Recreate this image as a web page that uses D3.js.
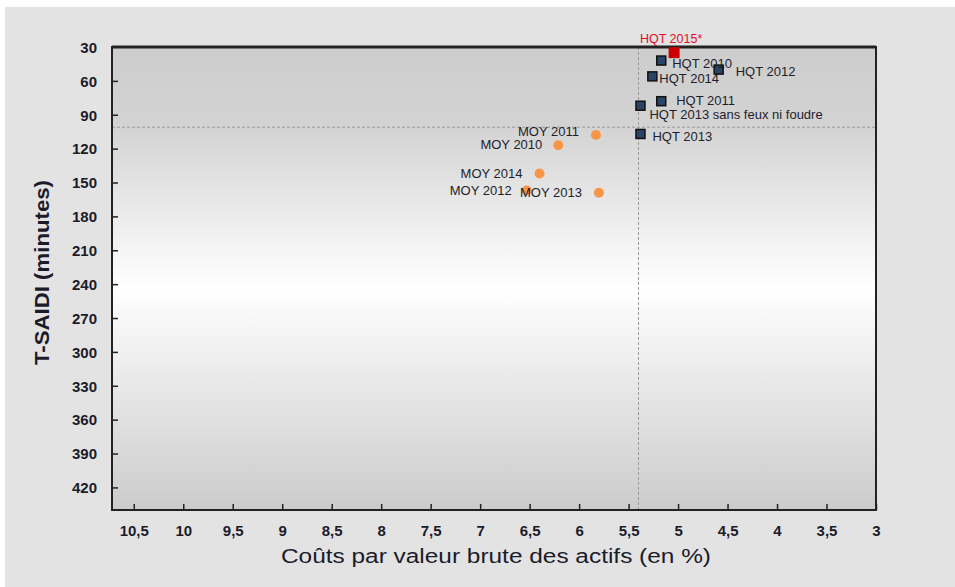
<!DOCTYPE html>
<html>
<head>
<meta charset="utf-8">
<script src="https://cdn.jsdelivr.net/npm/d3@7"></script>
<style>
  html, body { margin: 0; padding: 0; background: #fff; }
  svg { display: block; }
</style>
</head>
<body>
<svg id="chart"></svg>
<script>
const width = 955;
const height = 587;

// Données
const hqtLabels = ["HQT 2010", "HQT 2012", "HQT 2014", "HQT 2011", "HQT 2013 sans feux ni foudre", "HQT 2013"];
const hqtCost   = [5.17, 4.59, 5.26, 5.17, 5.38, 5.38];
const hqtSaidi  = [42, 50, 56, 78, 82, 107];

const moyLabels = ["MOY 2011", "MOY 2010", "MOY 2014", "MOY 2012", "MOY 2013"];
const moyCost   = [5.83, 6.21, 6.40, 6.53, 5.80];
const moySaidi  = [108, 117, 142, 157, 159];

const targetLabel = "HQT 2015*";
const targetCost = 5.04;
const targetSaidi = 35;

const refCost = 5.40;   // ligne verticale pointillée
const refSaidi = 101;   // ligne horizontale pointillée

const xTicks = [10.5, 10, 9.5, 9, 8.5, 8, 7.5, 7, 6.5, 6, 5.5, 5, 4.5, 4, 3.5, 3];
const yTicks = [30, 60, 90, 120, 150, 180, 210, 240, 270, 300, 330, 360, 390, 420];

// placement des étiquettes (dx, dy, ancrage)
const hqtPlace = [[11, 3, "start"], [17, 2, "start"], [7, 2, "start"], [15, -1, "start"], [9, 9, "start"], [12, 2, "start"]];
const moyPlace = [[-17, -4, "end"], [-16, -1, "end"], [-17, 0, "end"], [-15, 0, "end"], [-17, 0, "end"]];

const plot = { left: 112, right: 876, top: 47, bottom: 510 };

const svg = d3.select("#chart")
  .attr("width", width)
  .attr("height", height)
  .attr("viewBox", `0 0 ${width} ${height}`);

const sans = "'Liberation Sans', Arial, sans-serif";

// fond gris de la page
svg.append("rect")
  .attr("x", 5).attr("y", 7)
  .attr("width", width - 5).attr("height", height - 7)
  .attr("fill", "#e3e3e3");

const x = d3.scaleLinear().domain([10.72, 3]).range([plot.left, plot.right]);
const y = d3.scaleLinear().domain([30, 440]).range([plot.top, plot.bottom]);

// dégradé du fond de la zone de tracé
const grad = svg.append("defs").append("linearGradient")
  .attr("id", "bg").attr("x1", 0).attr("y1", 0).attr("x2", 0).attr("y2", 1);
[[0, "#cdcdcd"], [0.17, "#d3d3d3"], [0.52, "#ffffff"], [1, "#cbcbcb"]].forEach(([o, c]) => {
  grad.append("stop").attr("offset", o).attr("stop-color", c);
});

svg.append("rect")
  .attr("x", plot.left).attr("y", plot.top)
  .attr("width", plot.right - plot.left).attr("height", plot.bottom - plot.top)
  .attr("fill", "url(#bg)");

// lignes de référence
svg.append("line")
  .attr("x1", x(refCost)).attr("x2", x(refCost))
  .attr("y1", plot.top).attr("y2", plot.bottom)
  .attr("stroke", "#999").attr("stroke-width", 1).attr("stroke-dasharray", "3,2");
svg.append("line")
  .attr("x1", plot.left).attr("x2", plot.right)
  .attr("y1", y(refSaidi)).attr("y2", y(refSaidi))
  .attr("stroke", "#999").attr("stroke-width", 1).attr("stroke-dasharray", "3,2");

// axes (ticks vers l'intérieur)
const fmt = d => String(d).replace(".", ",");

const xAxis = svg.append("g")
  .attr("transform", `translate(0,${plot.bottom})`)
  .call(d3.axisBottom(x).tickValues(xTicks).tickSize(-6).tickPadding(15).tickFormat(fmt));
const yAxis = svg.append("g")
  .attr("transform", `translate(${plot.left},0)`)
  .call(d3.axisLeft(y).tickValues(yTicks).tickSize(-6).tickPadding(15));

[xAxis, yAxis].forEach(g => {
  g.select(".domain").remove();
  g.selectAll(".tick line").attr("stroke", "#222").attr("stroke-width", 1.5);
  g.selectAll(".tick text")
    .attr("fill", "#1b1b2a")
    .style("font-family", sans)
    .style("font-weight", "bold")
    .style("font-size", "15px");
});
yAxis.selectAll(".tick").filter(d => d === 30).select("line").remove();
yAxis.selectAll(".tick text").attr("dy", "0.35em");

// cadre
svg.append("rect")
  .attr("x", plot.left).attr("y", plot.top)
  .attr("width", plot.right - plot.left).attr("height", plot.bottom - plot.top)
  .attr("fill", "none").attr("stroke", "#222").attr("stroke-width", 2);
svg.append("line")
  .attr("x1", plot.left).attr("x2", plot.right)
  .attr("y1", plot.top).attr("y2", plot.top)
  .attr("stroke", "#222").attr("stroke-width", 3);

// titres des axes
svg.append("text")
  .attr("transform", `translate(42,${(plot.top + plot.bottom) / 2 - 6}) rotate(-90)`)
  .attr("text-anchor", "middle").attr("dy", "0.35em")
  .attr("fill", "#1b1b2a")
  .attr("textLength", 185).attr("lengthAdjust", "spacingAndGlyphs")
  .style("font-family", sans).style("font-weight", "bold").style("font-size", "21px")
  .text("T-SAIDI (minutes)");

svg.append("text")
  .attr("x", 496).attr("y", 556)
  .attr("text-anchor", "middle").attr("dy", "0.35em")
  .attr("fill", "#1b1b2a")
  .attr("textLength", 430).attr("lengthAdjust", "spacingAndGlyphs")
  .style("font-family", sans).style("font-size", "20px")
  .text("Coûts par valeur brute des actifs (en %)");

// points MOY (cercles orange)
const moy = moyLabels.map((l, i) => ({ label: l, cost: moyCost[i], saidi: moySaidi[i], place: moyPlace[i] }));
svg.append("g").selectAll("circle")
  .data(moy).join("circle")
  .attr("cx", d => x(d.cost)).attr("cy", d => y(d.saidi))
  .attr("r", 5).attr("fill", "#f79646");

// points HQT (carrés bleu foncé)
const hqt = hqtLabels.map((l, i) => ({ label: l, cost: hqtCost[i], saidi: hqtSaidi[i], place: hqtPlace[i] }));
const sq = 9;
svg.append("g").selectAll("rect")
  .data(hqt).join("rect")
  .attr("x", d => x(d.cost) - sq / 2).attr("y", d => y(d.saidi) - sq / 2)
  .attr("width", sq).attr("height", sq)
  .attr("fill", "#2a4466").attr("stroke", "#111").attr("stroke-width", 1.5);

// étiquettes
svg.append("g").selectAll("text")
  .data(moy.concat(hqt)).join("text")
  .attr("x", d => x(d.cost) + d.place[0])
  .attr("y", d => y(d.saidi) + d.place[1])
  .attr("dy", "0.35em")
  .attr("text-anchor", d => d.place[2])
  .attr("fill", "#1e1e2c")
  .style("font-family", sans).style("font-size", "13px")
  .text(d => d.label);

// cible 2015 (carré rouge)
const big = 11;
svg.append("rect")
  .attr("x", x(targetCost) - big / 2).attr("y", y(targetSaidi) - big / 2)
  .attr("width", big).attr("height", big)
  .attr("fill", "#cc0000");
svg.append("text")
  .attr("x", x(targetCost) - 3).attr("y", y(targetSaidi) - 14)
  .attr("text-anchor", "middle").attr("dy", "0.35em")
  .attr("fill", "#e0102a")
  .style("font-family", sans).style("font-size", "12.5px")
  .text(targetLabel);
</script>
</body>
</html>
